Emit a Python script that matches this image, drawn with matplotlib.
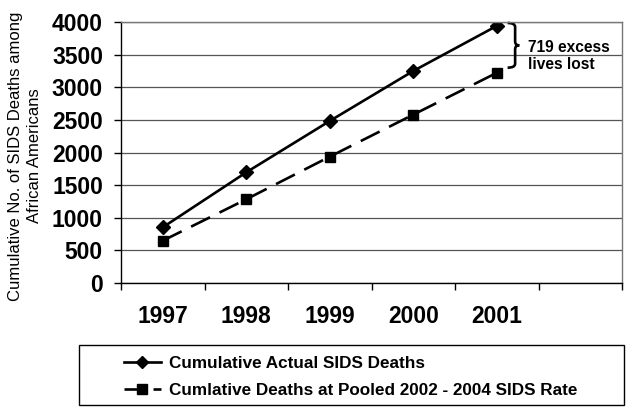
import matplotlib
matplotlib.use("Agg")
import matplotlib.pyplot as plt
from matplotlib.path import Path
from matplotlib.patches import PathPatch, Rectangle
from matplotlib.lines import Line2D

plt.rcParams['font.family'] = ['Liberation Sans', 'DejaVu Sans']

years = ['1997', '1998', '1999', '2000', '2001', '']
actual = [853, 1696, 2483, 3249, 3940]
pooled = [648, 1283, 1936, 2580, 3221]
label_actual = 'Cumulative Actual SIDS Deaths'
label_pooled = 'Cumlative Deaths at Pooled 2002 - 2004 SIDS Rate'
annot_text = '719 excess\nlives lost'
ylabel_text = 'Cumulative No. of SIDS Deaths among\nAfrican Americans'

W, H = 630, 412
fig = plt.figure(figsize=(W/100, H/100), dpi=100)
ax = fig.add_axes([121/W, 1-283/H, (622-121)/W, (283-22)/H])

x = list(range(len(actual)))
ax.plot(x, actual, color='black', lw=1.9, marker='D', ms=7, label=label_actual)
ax.plot(x, pooled, color='black', lw=1.9, marker='s', ms=7,
        dashes=(8, 4), label=label_pooled)

ax.set_xlim(-0.5, len(years)-0.5)
ax.set_ylim(0, 4000)
ax.set_yticks(range(0, 4001, 500))
ax.set_xticks(range(len(years)))
ax.set_xticklabels(years)
ax.set_xticks([i-0.5 for i in range(len(years)+1)], minor=True)
ax.tick_params(axis='x', which='major', length=0, pad=16, labelsize=16.5)
ax.tick_params(axis='x', which='minor', length=5, width=1, direction='out')
ax.tick_params(axis='y', length=5, width=1, direction='out', pad=8, labelsize=16.5)
for lbl in ax.get_xticklabels() + ax.get_yticklabels():
    lbl.set_fontweight('bold')

ax.yaxis.grid(True, color='#555555', lw=0.9)
ax.set_axisbelow(True)
for s in ['top', 'right']:
    ax.spines[s].set_color('#777777')
    ax.spines[s].set_linewidth(1.0)
for s in ['left', 'bottom']:
    ax.spines[s].set_color('black')
    ax.spines[s].set_linewidth(1.0)

fig.text(25/W, 1-156/H, ylabel_text, rotation=90, ha='center', va='center',
         multialignment='center', fontsize=12, linespacing=1.3)

# brace
xa, xb, xc = 4.13, 4.22, 4.27
y0, y1 = 3985, 3300
ym = (y0 + y1) / 2
verts = [(xa, y0), (xb, y0), (xb, y0-60),
         (xb, ym+60), (xb, ym), (xc, ym),
         (xb, ym), (xb, ym-60),
         (xb, y1+60), (xb, y1), (xa, y1)]
codes = [Path.MOVETO, Path.CURVE3, Path.CURVE3,
         Path.LINETO, Path.CURVE3, Path.CURVE3,
         Path.CURVE3, Path.CURVE3,
         Path.LINETO, Path.CURVE3, Path.CURVE3]
ax.add_patch(PathPatch(Path(verts, codes), fill=False, lw=1.9, color='black', clip_on=False))
ax.text(4.38, 3480, annot_text, fontsize=11.2, fontweight='bold', va='center', ha='left',
        linespacing=1.15)

# legend box
fig.patches.append(Rectangle((79/W, 1-405/H), (624-79)/W, 60/H, transform=fig.transFigure,
                             fill=False, edgecolor='black', lw=1.0))
handles = [Line2D([], [], color='black', lw=1.9, marker='D', ms=6.5),
           Line2D([], [], color='black', lw=1.9, marker='s', ms=6.5, dashes=(7, 4))]
fig.legend(handles, [label_actual, label_pooled], loc='center left',
           bbox_to_anchor=(115/W, 1-377/H), frameon=False,
           prop={'size': 12.3, 'weight': 'bold'}, handlelength=2.2,
           handletextpad=0.45, labelspacing=0.72, borderpad=0)

fig.savefig('out.png', dpi=100)
